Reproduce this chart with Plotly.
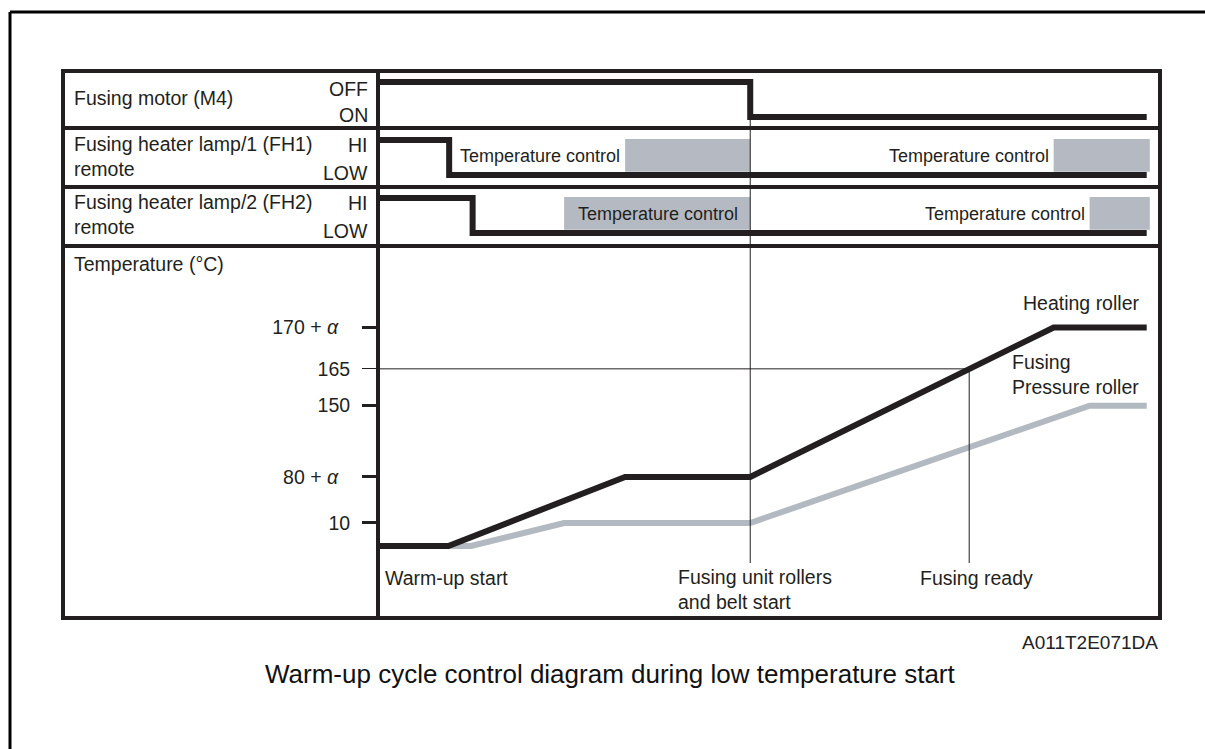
import plotly.graph_objects as go

# ---------------------------------------------------------------------------
# Timing diagram data (time in arbitrary units 0..100 across the chart body)
# ---------------------------------------------------------------------------
T_UNIT_START = 47.6      # fusing unit rollers and belt start
T_READY = 75.6           # fusing ready (heating roller passes 165)

motor_t = [0, T_UNIT_START, 98.3]
motor_state = [1, 0, 0]            # 1 = OFF, 0 = ON
motor_labels = ["OFF", "ON"]

fh1_t = [0, 9.1, 98.3]
fh1_state = [1, 0, 0]              # 1 = HI, 0 = LOW
fh2_t = [0, 12.1, 98.3]
fh2_state = [1, 0, 0]
lamp_labels = ["HI", "LOW"]

# temperature-control windows of each heater lamp (start, end)
fh1_ctrl = [(31.6, T_UNIT_START), (86.4, 98.7)]
fh2_ctrl = [(23.8, T_UNIT_START), (91.0, 98.7)]

# roller temperatures on a schematic level scale
heat_t = [0, 9.0, 31.6, T_UNIT_START, 86.4, 98.3]
heat_lvl = [0, 0, 30, 30, 95, 95]
press_t = [9.0, 11.9, 23.8, T_UNIT_START, 91.0, 98.3]
press_lvl = [0, 0, 10, 10, 61, 61]

alpha_ticks = [95, 30]
alpha_text = ["170 + <i>α</i>", "80 + <i>α</i>"]
plain_ticks = [61, 10]
plain_text = ["150", "10"]
ready_level = 77
ready_text = "165"
event_foot = -7.4

# ---------------------------------------------------------------------------
W, H = 1205, 749
INK = "#231f20"
GREY_LINE = "#b3b9c0"
GREY_BOX = "#b5bac2"
FONT = "Liberation Sans, Arial, sans-serif"
LBL = 19.5


def px(x):
    return x / W


def py(y):
    return 1 - y / H


X_DOM = [px(378), px(1160)]
TEMP_RANGE = [-31.3, 130.4]

fig = go.Figure()

# step signals
fig.add_trace(go.Scatter(x=motor_t, y=motor_state, mode="lines", line_shape="hv",
                         line=dict(color=INK, width=6), yaxis="y3"))
fig.add_trace(go.Scatter(x=fh1_t, y=fh1_state, mode="lines", line_shape="hv",
                         line=dict(color=INK, width=6), yaxis="y4"))
fig.add_trace(go.Scatter(x=fh2_t, y=fh2_state, mode="lines", line_shape="hv",
                         line=dict(color=INK, width=6), yaxis="y5"))

# 165 reference and fusing-ready marker
fig.add_trace(go.Scatter(x=[0, T_READY, T_READY], y=[ready_level, ready_level, event_foot],
                         mode="lines", line=dict(color=INK, width=1), yaxis="y6"))
# roller temperatures
fig.add_trace(go.Scatter(x=press_t, y=press_lvl, mode="lines",
                         line=dict(color=GREY_LINE, width=6), yaxis="y"))
fig.add_trace(go.Scatter(x=heat_t, y=heat_lvl, mode="lines",
                         line=dict(color=INK, width=6), yaxis="y"))
# keeps the plain-number tick axis drawn
fig.add_trace(go.Scatter(x=[None], y=[None], mode="lines", yaxis="y2", hoverinfo="skip"))

shapes = []
# temperature-control boxes
for (a, b) in fh1_ctrl:
    shapes.append(dict(type="rect", xref="x", yref="y4", x0=a, x1=b, y0=0.09, y1=1.03,
                       fillcolor=GREY_BOX, line=dict(width=0), layer="below"))
for (a, b) in fh2_ctrl:
    shapes.append(dict(type="rect", xref="x", yref="y5", x0=a, x1=b, y0=0.09, y1=1.03,
                       fillcolor=GREY_BOX, line=dict(width=0), layer="below"))
# event line through all rows
shapes.append(dict(type="line", xref="x", yref="paper", x0=T_UNIT_START, x1=T_UNIT_START,
                   y0=py(563), y1=py(117), line=dict(color=INK, width=1)))
# table frame
shapes.append(dict(type="rect", xref="paper", yref="paper", x0=px(63), x1=px(1160),
                   y0=py(618), y1=py(71), line=dict(color=INK, width=4)))
for yy in (128, 187, 246):
    shapes.append(dict(type="line", xref="paper", yref="paper", x0=px(63), x1=px(1160),
                       y0=py(yy), y1=py(yy), line=dict(color=INK, width=4)))
shapes.append(dict(type="line", xref="paper", yref="paper", x0=px(378), x1=px(378),
                   y0=py(618), y1=py(71), line=dict(color=INK, width=4)))
# page frame
shapes.append(dict(type="line", xref="paper", yref="paper", x0=px(10), x1=1,
                   y0=py(12), y1=py(12), line=dict(color="black", width=3)))
shapes.append(dict(type="line", xref="paper", yref="paper", x0=px(10), x1=px(10),
                   y0=py(12), y1=0, line=dict(color="black", width=3)))

ann = []


def note(text, x, y, xanchor="left", size=LBL, color=INK, xref="paper", yref="paper"):
    ann.append(dict(text=text, x=x, y=y, xref=xref, yref=yref, xanchor=xanchor,
                    yanchor="middle", align="left", showarrow=False,
                    font=dict(family=FONT, size=size, color=color)))


# row titles
note("Fusing motor (M4)", px(72), py(98))
note("Fusing heater lamp/1 (FH1)<br>remote", px(72), py(156))
note("Fusing heater lamp/2 (FH2)<br>remote", px(72), py(214))
note("Temperature (°C)", px(72), py(264))

# state labels
note(motor_labels[0], px(370), py(89), "right")
note(motor_labels[1], px(370), py(115), "right")
note(lamp_labels[0], px(370), py(145), "right")
note(lamp_labels[1], px(370), py(173), "right")
note(lamp_labels[0], px(370), py(203), "right")
note(lamp_labels[1], px(370), py(231), "right")

# temperature-control captions
for i, (a, b) in enumerate(fh1_ctrl):
    ann.append(dict(text="Temperature control", x=a, y=0.55, xref="x", yref="y4",
                    xanchor="right", yanchor="middle", xshift=-3, showarrow=False,
                    font=dict(family=FONT, size=18, color=INK)))
ann.append(dict(text="Temperature control", x=fh2_ctrl[0][1], y=0.55, xref="x", yref="y5",
                xanchor="right", yanchor="middle", xshift=-10, showarrow=False,
                font=dict(family=FONT, size=18, color=INK)))
ann.append(dict(text="Temperature control", x=fh2_ctrl[1][0], y=0.55, xref="x", yref="y5",
                xanchor="right", yanchor="middle", xshift=-3, showarrow=False,
                font=dict(family=FONT, size=18, color=INK)))

# curve names
note("Heating roller", px(1021), py(303))
note("Fusing<br>Pressure roller", px(1010), py(374))

# event names
note("Warm-up start", px(383), py(578))
note("Fusing unit rollers<br>and belt start", px(676), py(589))
note("Fusing ready", px(918), py(578))

# footer
note("A011T2E071DA", px(1160), py(642), "right", size=19, color="#222")
note("Warm-up cycle control diagram during low temperature start", px(610), py(674),
     "center", size=26, color="#111")


def row_axis(top, bottom, rng):
    return dict(domain=[py(bottom), py(top)], range=rng, anchor="x", visible=False,
                fixedrange=True)


tick_common = dict(anchor="x", range=TEMP_RANGE, domain=[py(618), py(246)], showgrid=False,
                   zeroline=False, showline=False, ticks="outside", ticklen=15,
                   tickcolor=INK, tickfont=dict(family=FONT, size=LBL, color=INK),
                   fixedrange=True)

fig.update_layout(
    width=W, height=H, margin=dict(l=0, r=0, t=0, b=0),
    paper_bgcolor="white", plot_bgcolor="rgba(0,0,0,0)", showlegend=False,
    xaxis=dict(domain=X_DOM, range=[0, 100], visible=False, anchor="y", fixedrange=True),
    yaxis=dict(tickvals=alpha_ticks, ticktext=alpha_text, tickwidth=3,
               ticklabelstandoff=20, **tick_common),
    yaxis2=dict(tickvals=plain_ticks, ticktext=plain_text, tickwidth=3, overlaying="y",
                ticklabelstandoff=8, **tick_common),
    yaxis6=dict(tickvals=[ready_level], ticktext=[ready_text], tickwidth=1, overlaying="y",
                ticklabelstandoff=8, **tick_common),
    yaxis3=row_axis(71, 128, [-0.314, 1.314]),
    yaxis4=row_axis(128, 187, [-0.343, 1.343]),
    yaxis5=row_axis(187, 246, [-0.371, 1.314]),
    shapes=shapes, annotations=ann,
)

fig.write_html("out.html")
